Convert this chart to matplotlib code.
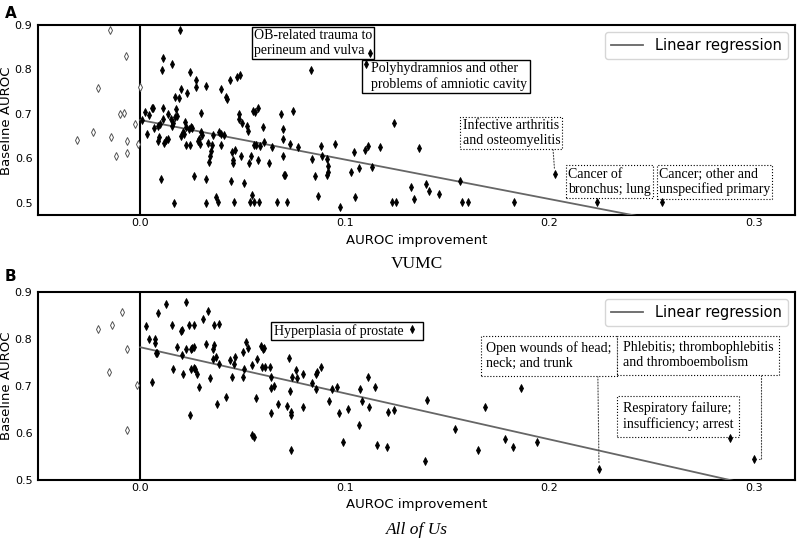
import numpy as np
import matplotlib
matplotlib.use("Agg")
import matplotlib.pyplot as plt

# ---- VUMC (panel A) ----
vumc_neg_x = [-0.0146, -0.0068, -0.0207, -0.0003, -0.0098, -0.0081, -0.0028, -0.0230,
              -0.0310, -0.0141, -0.0067, -0.0013, -0.0067, -0.0120]
vumc_neg_y = [0.889, 0.830, 0.758, 0.761, 0.699, 0.702, 0.678, 0.658,
              0.642, 0.648, 0.639, 0.633, 0.611, 0.604]

vumc_pos = [
    (0.0008, 0.686), (0.0024, 0.705), (0.0042, 0.697), (0.0033, 0.655), (0.0057, 0.714),
    (0.0063, 0.712), (0.0068, 0.667), (0.0088, 0.673), (0.0094, 0.677), (0.0088, 0.639),
    (0.0091, 0.647), (0.0101, 0.554), (0.0111, 0.826), (0.0107, 0.798), (0.0111, 0.714),
    (0.0111, 0.688), (0.0114, 0.635), (0.0125, 0.642), (0.0135, 0.644), (0.0137, 0.699),
    (0.0156, 0.813), (0.0151, 0.688), (0.0159, 0.679), (0.0156, 0.673), (0.0163, 0.500),
    (0.0172, 0.737), (0.0190, 0.735), (0.0174, 0.711), (0.0179, 0.695), (0.0171, 0.692),
    (0.0197, 0.756), (0.0195, 0.889), (0.0200, 0.650), (0.0208, 0.659), (0.0215, 0.655),
    (0.0220, 0.682), (0.0221, 0.670), (0.0223, 0.630), (0.0228, 0.748), (0.0237, 0.665),
    (0.0244, 0.795), (0.0242, 0.630), (0.0249, 0.670), (0.0254, 0.667), (0.0260, 0.559),
    (0.0272, 0.761), (0.0273, 0.777), (0.0283, 0.638), (0.0288, 0.643), (0.0291, 0.631),
    (0.0298, 0.702), (0.0298, 0.658), (0.0301, 0.652), (0.0319, 0.762), (0.0319, 0.500),
    (0.0322, 0.553), (0.0332, 0.635), (0.0335, 0.592), (0.0341, 0.605), (0.0346, 0.617),
    (0.0351, 0.629), (0.0354, 0.652), (0.0372, 0.512), (0.0380, 0.501), (0.0384, 0.659),
    (0.0393, 0.655), (0.0393, 0.755), (0.0395, 0.630), (0.0407, 0.652), (0.0418, 0.739),
    (0.0424, 0.733), (0.0436, 0.777), (0.0441, 0.548), (0.0446, 0.614), (0.0452, 0.597),
    (0.0455, 0.589), (0.0460, 0.502), (0.0465, 0.618), (0.0475, 0.783), (0.0489, 0.788),
    (0.0481, 0.699), (0.0481, 0.688), (0.0491, 0.606), (0.0499, 0.680), (0.0509, 0.545),
    (0.0520, 0.673), (0.0524, 0.661), (0.0530, 0.589), (0.0538, 0.502), (0.0548, 0.518),
    (0.0558, 0.502), (0.0579, 0.502), (0.0541, 0.605), (0.0553, 0.707), (0.0561, 0.705),
    (0.0576, 0.714), (0.0556, 0.630), (0.0564, 0.630), (0.0577, 0.597), (0.0585, 0.627),
    (0.0598, 0.670), (0.0607, 0.637), (0.0631, 0.589), (0.0642, 0.625), (0.0667, 0.502),
    (0.0688, 0.699), (0.0699, 0.665), (0.0699, 0.644), (0.0699, 0.605), (0.0701, 0.563),
    (0.0707, 0.563), (0.0715, 0.502), (0.0732, 0.633), (0.0748, 0.707), (0.0771, 0.626),
    (0.0833, 0.799), (0.0839, 0.598), (0.0852, 0.561), (0.0870, 0.514), (0.0883, 0.627),
    (0.0889, 0.605), (0.0912, 0.598), (0.0919, 0.582), (0.0919, 0.570), (0.0912, 0.563),
    (0.0951, 0.633), (0.0976, 0.491), (0.1028, 0.568), (0.1044, 0.614), (0.1047, 0.512),
    (0.1070, 0.578), (0.1098, 0.619), (0.1114, 0.627), (0.1133, 0.580), (0.1171, 0.626),
    (0.1228, 0.502), (0.1252, 0.502), (0.1239, 0.680), (0.1102, 0.813), (0.1124, 0.836),
    (0.1325, 0.536), (0.1337, 0.508), (0.1361, 0.623), (0.1395, 0.542), (0.1410, 0.527),
    (0.1460, 0.519), (0.1564, 0.548), (0.1574, 0.502), (0.1602, 0.502), (0.1828, 0.502),
    (0.2026, 0.565), (0.2233, 0.501), (0.2550, 0.502),
]
vumc_pos_x = [p[0] for p in vumc_pos]
vumc_pos_y = [p[1] for p in vumc_pos]
vumc_fit = (-0.89, 0.686)   # slope, intercept

# ---- All of Us (panel B) ----
aou_neg_x = [-0.0208, -0.0137, -0.0091, -0.0063, -0.0151, -0.0015, -0.0065]
aou_neg_y = [0.821, 0.829, 0.856, 0.778, 0.730, 0.701, 0.606]

aou_pos = [
    (0.0029, 0.828), (0.0044, 0.799), (0.0072, 0.799), (0.0072, 0.791), (0.0075, 0.769),
    (0.0081, 0.769), (0.0057, 0.709), (0.0086, 0.855), (0.0128, 0.873), (0.0156, 0.829),
    (0.0161, 0.736), (0.0180, 0.783), (0.0198, 0.816), (0.0205, 0.818), (0.0205, 0.766),
    (0.0207, 0.726), (0.0221, 0.878), (0.0224, 0.779), (0.0236, 0.829), (0.0241, 0.637),
    (0.0246, 0.778), (0.0255, 0.781), (0.0262, 0.783), (0.0262, 0.829), (0.0247, 0.736),
    (0.0260, 0.738), (0.0268, 0.736), (0.0276, 0.725), (0.0288, 0.698), (0.0306, 0.843),
    (0.0319, 0.789), (0.0332, 0.859), (0.0343, 0.716), (0.0354, 0.778), (0.0359, 0.786),
    (0.0353, 0.758), (0.0358, 0.829), (0.0369, 0.762), (0.0377, 0.661), (0.0384, 0.831),
    (0.0384, 0.746), (0.0421, 0.677), (0.0436, 0.755), (0.0450, 0.718), (0.0460, 0.746),
    (0.0465, 0.762), (0.0501, 0.718), (0.0507, 0.736), (0.0504, 0.772), (0.0515, 0.793),
    (0.0524, 0.781), (0.0546, 0.744), (0.0546, 0.595), (0.0556, 0.592), (0.0564, 0.674),
    (0.0569, 0.756), (0.0589, 0.784), (0.0598, 0.779), (0.0607, 0.781), (0.0595, 0.739),
    (0.0610, 0.741), (0.0634, 0.741), (0.0637, 0.643), (0.0639, 0.718), (0.0637, 0.696),
    (0.0654, 0.700), (0.0672, 0.661), (0.0715, 0.657), (0.0725, 0.759), (0.0733, 0.689),
    (0.0737, 0.644), (0.0737, 0.639), (0.0735, 0.563), (0.0743, 0.718), (0.0763, 0.734),
    (0.0764, 0.716), (0.0797, 0.654), (0.0797, 0.725), (0.0841, 0.706), (0.0857, 0.726),
    (0.0862, 0.729), (0.0857, 0.694), (0.0881, 0.739), (0.0924, 0.668), (0.0938, 0.694),
    (0.0963, 0.698), (0.0971, 0.643), (0.0989, 0.581), (0.1016, 0.651), (0.1068, 0.616),
    (0.1075, 0.694), (0.1085, 0.668), (0.1112, 0.719), (0.1120, 0.656), (0.1145, 0.698),
    (0.1156, 0.575), (0.1208, 0.570), (0.1211, 0.645), (0.1239, 0.648), (0.1330, 0.820),
    (0.1403, 0.670), (0.1392, 0.541), (0.1538, 0.609), (0.1650, 0.563), (0.1686, 0.654),
    (0.1780, 0.587), (0.1820, 0.570), (0.1860, 0.696), (0.1938, 0.580), (0.2242, 0.524),
    (0.2883, 0.589), (0.2997, 0.545),
]
aou_pos_x = [p[0] for p in aou_pos]
aou_pos_y = [p[1] for p in aou_pos]
aou_fit = (-0.979, 0.782)

serif = "Liberation Serif"
solid_box = dict(boxstyle="square,pad=0.15", fc="white", ec="black", lw=1.0)
dot_box_a = dict(boxstyle="square,pad=0.15", fc="white", ec="black", lw=0.8, ls=":")
dot_box_b = dict(boxstyle="square,pad=0.4", fc="white", ec="black", lw=0.8, ls=":")
leader = dict(arrowstyle="-", ls=":", lw=0.8, color="#444444", shrinkA=0, shrinkB=4)

fig = plt.figure(figsize=(8, 5.45), dpi=100)
axA = fig.add_axes([0.0475, 0.6046, 0.9463, 0.3495])
axB = fig.add_axes([0.0475, 0.1193, 0.9463, 0.3455])


def draw_panel(ax, nx, ny, px, py, fit, ylim):
    ax.plot(nx, ny, ls="none", marker="d", ms=4.0, mfc="white", mec="#555555", mew=0.7, zorder=4)
    ax.plot(px, py, ls="none", marker="d", ms=3.9, mfc="black", mec="black", mew=0.6, zorder=4)
    xs = np.array([0.0, 0.32])
    ax.plot(xs, fit[0] * xs + fit[1], color="#666666", lw=1.3, label="Linear regression", zorder=3)
    ax.axvline(0.0, color="black", lw=1.5, zorder=2)
    ax.set_xlim(-0.05, 0.32)
    ax.set_ylim(*ylim)
    ax.set_xticks([0.0, 0.1, 0.2, 0.3])
    ax.set_yticks([0.5, 0.6, 0.7, 0.8, 0.9])
    ax.xaxis.set_major_formatter(matplotlib.ticker.FormatStrFormatter("%.1f"))
    ax.yaxis.set_major_formatter(matplotlib.ticker.FormatStrFormatter("%.1f"))
    ax.tick_params(axis="x", length=0, pad=2, labelsize=8)
    ax.tick_params(axis="y", length=0, pad=4, labelsize=8)
    for s in ax.spines.values():
        s.set_linewidth(1.5)
    ax.set_xlabel("AUROC improvement", fontsize=9.5)
    ax.set_ylabel("Baseline AUROC", fontsize=9.5, labelpad=1)
    ax.legend(loc="upper right", fontsize=10.5, handlelength=2.2)


draw_panel(axA, vumc_neg_x, vumc_neg_y, vumc_pos_x, vumc_pos_y, vumc_fit, (0.471, 0.9))
draw_panel(axB, aou_neg_x, aou_neg_y, aou_pos_x, aou_pos_y, aou_fit, (0.5, 0.9))

# panel A annotations
axA.text(0.0554, 0.8914, "OB-related trauma to\nperineum and vulva", family=serif, fontsize=10,
         ha="left", va="top", bbox=solid_box, zorder=3)
axA.text(0.1095, 0.8167, "  Polyhydramnios and other\n  problems of amniotic cavity", family=serif,
         fontsize=10, ha="left", va="top", bbox=solid_box, zorder=3)
axA.annotate("Infective arthritis\nand osteomyelitis", xy=(0.2026, 0.565), xytext=(0.1575, 0.6885),
             family=serif, fontsize=10, ha="left", va="top", bbox=dot_box_a, zorder=3,
             arrowprops=dict(leader, relpos=(0.925, 0.0)))
axA.text(0.2092, 0.579, "Cancer of\nbronchus; lung", family=serif, fontsize=10,
         ha="left", va="top", bbox=dot_box_a, zorder=3)
axA.text(0.2534, 0.579, "Cancer; other and\nunspecified primary", family=serif, fontsize=10,
         ha="left", va="top", bbox=dot_box_a, zorder=3)

# panel B annotations
axB.text(0.0651, 0.8312, "Hyperplasia of prostate\u00a0\u00a0\u00a0\u00a0\u00a0", family=serif, fontsize=10,
         ha="left", va="top", bbox=solid_box, zorder=3)
axB.annotate("Open wounds of head;\nneck; and trunk", xy=(0.2242, 0.524), xytext=(0.169, 0.7944),
             family=serif, fontsize=10, ha="left", va="top", bbox=dot_box_b, zorder=3,
             arrowprops=dict(leader, relpos=(0.89, 0.0)))
axB.annotate("Phlebitis; thrombophlebitis\nand thromboembolism", xy=(0.2997, 0.545),
             xytext=(0.2359, 0.7946), family=serif, fontsize=10, ha="left", va="top",
             bbox=dot_box_b, zorder=3,
             arrowprops=dict(leader, relpos=(0.916, 0.0),
                             connectionstyle="angle,angleA=90,angleB=0,rad=0"))
axB.text(0.2359, 0.6667, "Respiratory failure;\ninsufficiency; arrest", family=serif, fontsize=10,
         ha="left", va="top", bbox=dot_box_b, zorder=3)

# panel letters and cohort titles
fig.text(0.006, 1 - 6 / 545, "A", fontsize=11, fontweight="bold", ha="left", va="top")
fig.text(0.006, 1 - 269 / 545, "B", fontsize=11, fontweight="bold", ha="left", va="top")
fig.text(0.5206, 1 - 264 / 545, "VUMC", family=serif, fontsize=12.5, ha="center", va="center")
fig.text(0.5206, 1 - 530 / 545, "All of Us", family=serif, style="italic", fontsize=12.5,
         ha="center", va="center")

fig.savefig("out.png", dpi=100)
